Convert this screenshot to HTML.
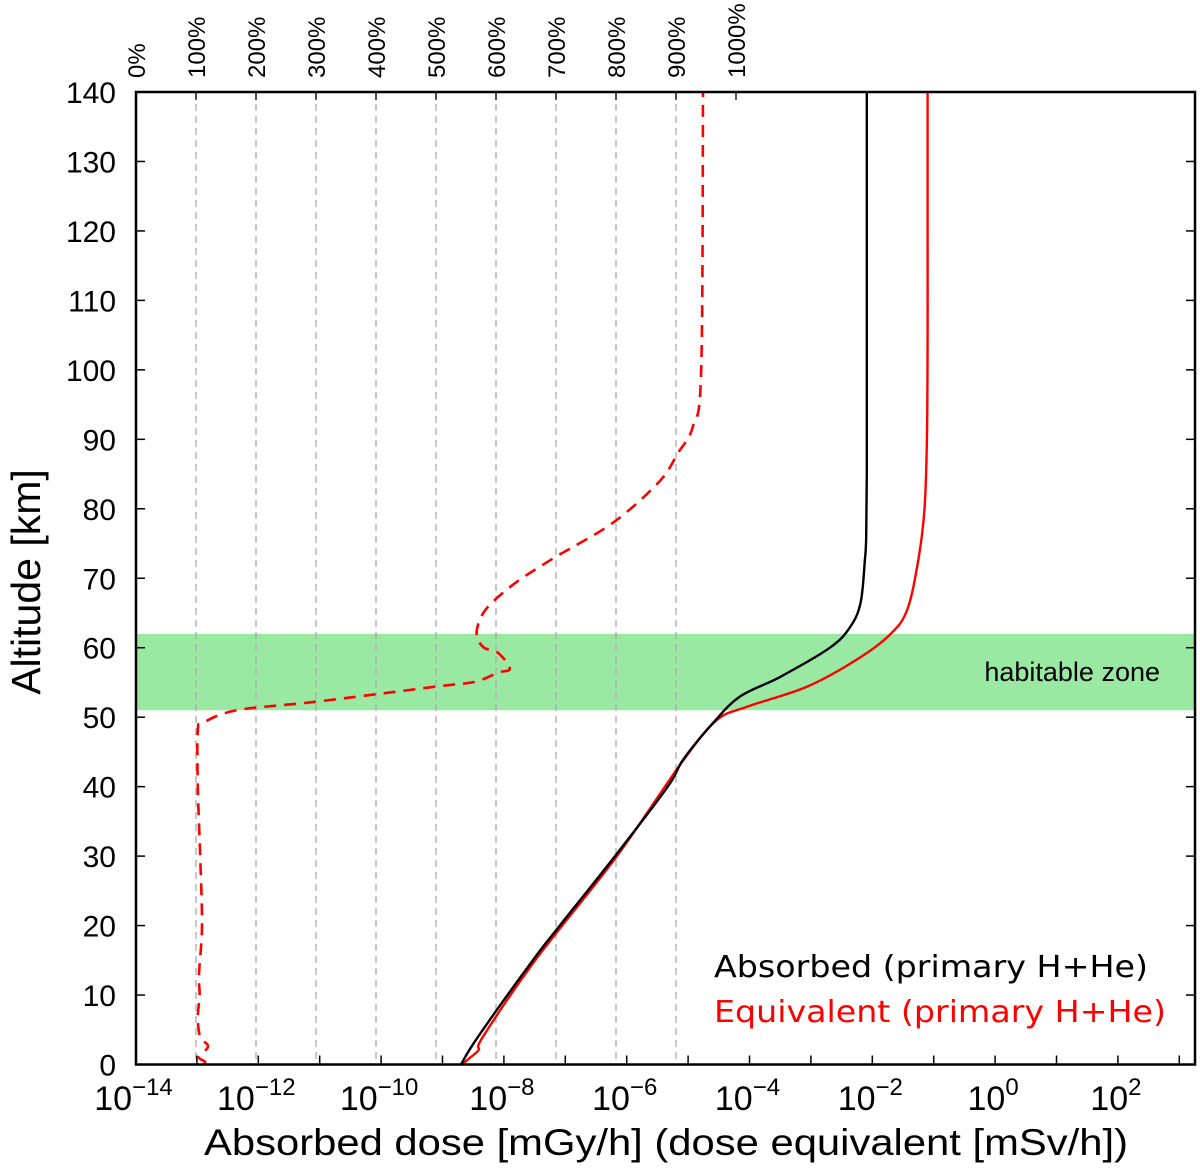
<!DOCTYPE html>
<html><head><meta charset="utf-8"><style>
html,body{margin:0;padding:0;background:#fff;}
svg{display:block;}
</style></head><body>
<svg id="chart" width="1200" height="1174" xmlns="http://www.w3.org/2000/svg" font-family="Liberation Sans, sans-serif"></svg>
<script>
// ---- data ----
const altTicks = [0,10,20,30,40,50,60,70,80,90,100,110,120,130,140];
const decadeTicks = [-14,-12,-10,-8,-6,-4,-2,0,2];
const pctTicks = [0,100,200,300,400,500,600,700,800,900,1000];
const absorbedAlt = [0,4,15,20,30,40,43.9,49.2,53,55.8,60,63,66.5,72.7,76,85,100,120,140];
const absorbedLog = [-8.70,-8.42,-7.53,-7.09,-6.19,-5.33,-5.08,-4.59,-4.15,-3.50,-2.69,-2.36,-2.19,-2.12,-2.10,-2.09,-2.09,-2.09,-2.09];
const equivAlt = [0,1,2.1,4,15,30,43.9,49.6,51.5,54.4,58.3,61.9,65.5,72.7,80,90,105,120,140];
const equivLog = [-8.68,-8.55,-8.41,-8.34,-7.49,-6.16,-5.07,-4.53,-4.04,-3.06,-2.25,-1.71,-1.43,-1.25,-1.15,-1.11,-1.10,-1.10,-1.10];
const ratioAlt = [0,0.4,1.1,2.6,4,6.7,10,13,20,30,40,48,49.2,51,52.2,54.4,55.1,56.4,57,59.3,60,61.7,64,66.2,69.5,73,78,83.9,88,91.8,100,140];
const ratioPct = [113,115,105,120,107,103,106,105,110,107,103,103,112,168,297,500,565,603,623,603,580,568,573,590,635,698,795,872,903,928,942,945];
const zoneRange = [51,62];

// ---- axes ----
const L=136,R=1195,T=92,B=1064.5;
const y = a => B - (a/140)*(B-T);
const x = lg => 135.5 + (lg+14)*61.4;
const xp = p => 136 + p*0.6;

const svg=document.getElementById('chart');
const NS='http://www.w3.org/2000/svg';
function mk(tag,attrs,parent){const e=document.createElementNS(NS,tag);for(const k in attrs)e.setAttribute(k,attrs[k]);(parent||svg).appendChild(e);return e;}

// habitable zone
const zone=mk('rect',{x:L,y:y(zoneRange[1]),width:R-L,height:y(zoneRange[0])-y(zoneRange[1]),fill:'#99e9a2'});


const zt=mk('text',{x:1160,y:681,'font-size':27,'text-anchor':'end',fill:'#000'});
zt.textContent='habitable zone';



// grid lines (percent)
pctTicks.forEach(p=>{
  if(p>0&&p<1000){
    const g=mk('line',{x1:xp(p),x2:xp(p),y1:T,y2:B,stroke:'#aaa','stroke-width':1.3,'stroke-dasharray':'7,5'});
    
    
  }
  if(p>0){
    mk('line',{x1:xp(p),x2:xp(p),y1:T,y2:T+8,stroke:'#000','stroke-width':1.3});
  }
  const t=mk('text',{x:0,y:0,'font-size':24,transform:`translate(${xp(p)+9},${T-14}) rotate(-90)`});
  t.textContent=p+'%';
  
  
});

// y ticks
altTicks.forEach(a=>{
  mk('line',{x1:L,x2:L+9,y1:y(a),y2:y(a),stroke:'#000','stroke-width':1.5});
  mk('line',{x1:R-9,x2:R,y1:y(a),y2:y(a),stroke:'#000','stroke-width':1.5});
  const t=mk('text',{x:116,y:y(a)+11,'font-size':30,'text-anchor':'end'});
  t.textContent=a;
  
  
});
// x ticks every decade
for(let d=-13;d<=3;d++){
  mk('line',{x1:x(d),x2:x(d),y1:B,y2:B-9,stroke:'#000','stroke-width':1.5});
}
decadeTicks.forEach(d=>{
  const t=mk('text',{x:x(d)-2,y:1110,'font-size':34,'text-anchor':'middle'});
  const s1=mk('tspan',{},t); s1.textContent='10';
  const s2=mk('tspan',{dy:-15,'font-size':24},t); s2.textContent=(d<0?'\u2212':'')+Math.abs(d);
  
  
});

// smooth path (Catmull-Rom)
function path(xs,ys,fx){
  const P=xs.map((v,i)=>[fx(ys[i]),y(v)]);
  let d='M'+P[0][0].toFixed(1)+','+P[0][1].toFixed(1);
  for(let i=0;i<P.length-1;i++){
    const p0=P[i-1]||P[i],p1=P[i],p2=P[i+1],p3=P[i+2]||P[i+1];
    const c1=[p1[0]+(p2[0]-p0[0])/6,p1[1]+(p2[1]-p0[1])/6];
    const c2=[p2[0]-(p3[0]-p1[0])/6,p2[1]-(p3[1]-p1[1])/6];
    d+=` C${c1[0].toFixed(1)},${c1[1].toFixed(1)} ${c2[0].toFixed(1)},${c2[1].toFixed(1)} ${p2[0].toFixed(1)},${p2[1].toFixed(1)}`;
  }
  return d;
}
const pr=mk('path',{d:path(ratioAlt,ratioPct,xp),fill:'none',stroke:'#f00','stroke-width':2.6,'stroke-dasharray':'12,8'});


const pe=mk('path',{d:path(equivAlt,equivLog,x),fill:'none',stroke:'#f00','stroke-width':2.4,'stroke-linejoin':'round'});


const pa=mk('path',{d:path(absorbedAlt,absorbedLog,x),fill:'none',stroke:'#000','stroke-width':2.4,'stroke-linejoin':'round'});



// frame
const fr=mk('rect',{x:L,y:T,width:R-L,height:B-T,fill:'none',stroke:'#000','stroke-width':2.5});



// legend
const l1=mk('text',{x:714,y:977,'font-size':30,'font-family':'DejaVu Sans, sans-serif',fill:'#000',textLength:434,lengthAdjust:'spacingAndGlyphs'});
l1.textContent='Absorbed (primary H+He)';


const l2=mk('text',{x:714,y:1022,'font-size':30,'font-family':'DejaVu Sans, sans-serif',fill:'#f00',textLength:452,lengthAdjust:'spacingAndGlyphs'});
l2.textContent='Equivalent (primary H+He)';



// axis titles
const xt=mk('text',{x:204,y:1155,'font-size':37,textLength:924,lengthAdjust:'spacingAndGlyphs'});
xt.textContent='Absorbed dose [mGy/h] (dose equivalent [mSv/h])';


const yt=mk('text',{x:0,y:0,'font-size':41,'text-anchor':'middle',transform:'translate(40,582) rotate(-90)'});
yt.textContent='Altitude [km]';


</script>
</body></html>
